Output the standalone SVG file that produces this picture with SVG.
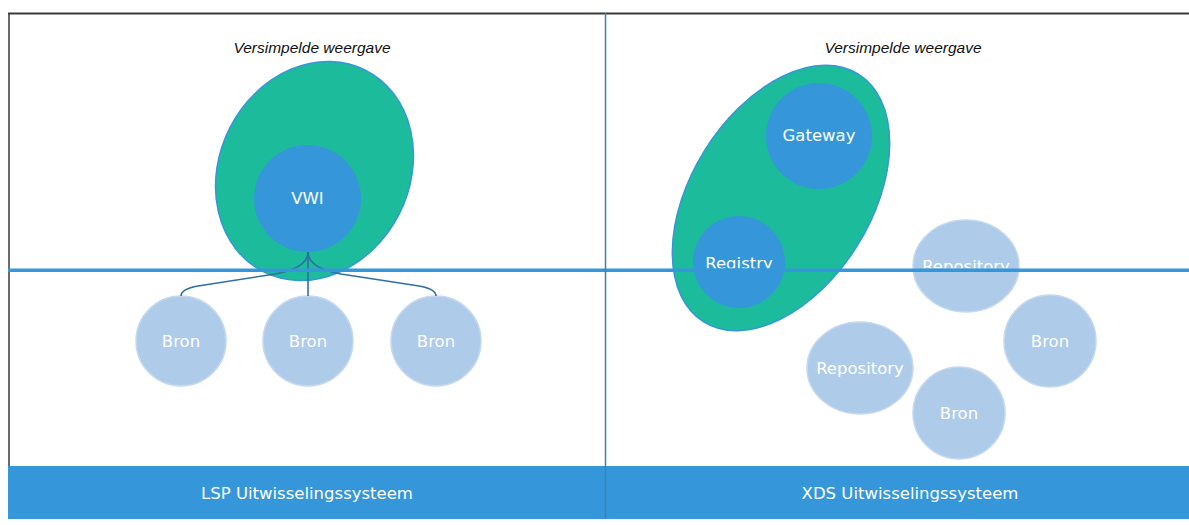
<svg xmlns="http://www.w3.org/2000/svg" width="1189" height="525" viewBox="0 0 1189 525">
<style>
.title{font-family:"Liberation Sans",Arial,sans-serif;font-style:italic;font-size:15.5px;fill:#111;text-anchor:middle}
.lbl{font-family:"DejaVu Sans","Open Sans",sans-serif;font-size:16.5px;fill:#ffffff;text-anchor:middle;dominant-baseline:central}
.lblb{font-family:"DejaVu Sans","Open Sans",sans-serif;font-size:16.5px;fill:#ffffff;text-anchor:middle}
.pale{fill:#aecbea;stroke:#c4d9ef;stroke-width:1.5}
.core{fill:#3597d9}
.zone{fill:#1cbb9b;stroke:#3597d9;stroke-width:1.5}
.conn{fill:none;stroke:#2f6fa6;stroke-width:1.6}
.bar{fill:#3597d9}
.barlbl{font-family:"DejaVu Sans","Open Sans",sans-serif;font-size:16.5px;fill:#ffffff;text-anchor:middle;dominant-baseline:central}
</style>
<defs>
<clipPath id="above"><rect x="0" y="0" width="1189" height="268.5"/></clipPath>
</defs>
<rect width="1189" height="525" fill="#ffffff"/>
<g id="frame">
<line x1="8" y1="13.5" x2="1189" y2="13.5" stroke="#3a3a3a" stroke-width="2"/>
<line x1="9" y1="13" x2="9" y2="466" stroke="#3a3a3a" stroke-width="1.5"/>
</g>
<g id="titles">
<text class="title" x="312" y="53">Versimpelde weergave</text>
<text class="title" x="903" y="53">Versimpelde weergave</text>
</g>
<g id="lsp-zone"><ellipse class="zone" cx="314.5" cy="171" rx="95" ry="113" transform="rotate(27 314.5 171)"/></g>
<g id="vwi"><circle class="core" cx="307.5" cy="198.5" r="53.5"/><text class="lbl" x="307.5" y="198">VWI</text></g>
<g id="xds-zone"><ellipse class="zone" cx="781" cy="198" rx="90" ry="146" transform="rotate(32 781 198)"/></g>
<g id="gateway"><circle class="core" cx="819" cy="136" r="53"/><text class="lbl" x="819" y="135">Gateway</text></g>
<g id="registry"><circle class="core" cx="739" cy="262" r="46"/><text class="lblb" x="739" y="268.5" clip-path="url(#above)">Registry</text></g>
<g id="repo-top"><ellipse class="pale" cx="966" cy="266" rx="53" ry="46"/><text class="lblb" x="966" y="272" clip-path="url(#above)">Repository</text></g>
<g id="bron-1"><circle class="pale" cx="181" cy="341" r="45"/><text class="lbl" x="181" y="341">Bron</text></g>
<g id="bron-2"><circle class="pale" cx="308" cy="341" r="45"/><text class="lbl" x="308" y="341">Bron</text></g>
<g id="bron-3"><circle class="pale" cx="436" cy="341" r="45"/><text class="lbl" x="436" y="341">Bron</text></g>
<g id="bron-4"><circle class="pale" cx="1050" cy="341" r="46"/><text class="lbl" x="1050" y="341">Bron</text></g>
<g id="repo-left"><ellipse class="pale" cx="860" cy="368" rx="53" ry="46"/><text class="lbl" x="860" y="368">Repository</text></g>
<g id="bron-5"><circle class="pale" cx="959" cy="413" r="46"/><text class="lbl" x="959" y="413">Bron</text></g>
<g id="connectors">
<path class="conn" d="M308,252 Q308,268 275,274 L198,286 Q181,289 181,296"/>
<path class="conn" d="M308,252 L308,296"/>
<path class="conn" d="M308,252 Q308,268 341,274 L419,286 Q436,289 436,296"/>
</g>
<g id="divider-h"><line x1="8" y1="270.3" x2="1189" y2="270.3" stroke="#3597d9" stroke-width="3.5"/></g>
<g id="lsp-bar"><rect class="bar" x="8" y="466" width="598" height="53"/><text class="barlbl" x="307" y="493">LSP Uitwisselingssysteem</text></g>
<g id="xds-bar"><rect class="bar" x="605" y="466" width="584" height="53"/><text class="barlbl" x="910" y="493">XDS Uitwisselingssysteem</text></g>
<g id="divider-v"><line x1="605.5" y1="13" x2="605.5" y2="519" stroke="#3f7fb6" stroke-width="1.5"/></g>
</svg>
